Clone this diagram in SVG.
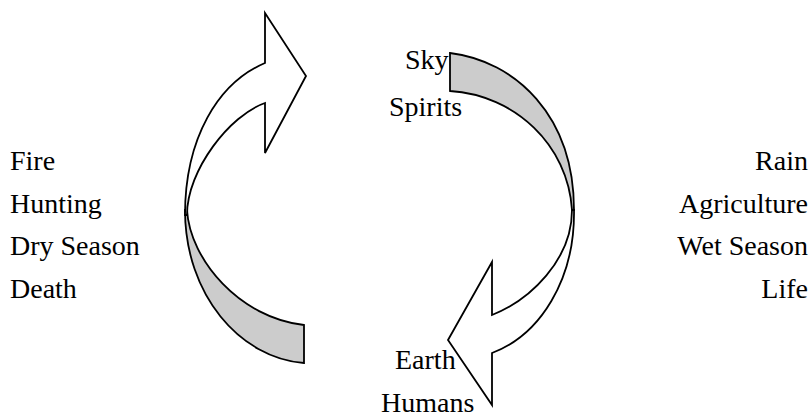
<svg xmlns="http://www.w3.org/2000/svg" width="811" height="417" viewBox="0 0 811 417">
<style>
.t{font-family:"Liberation Serif","Times New Roman",serif;font-size:28px;fill:#000}
.w{fill:#fff;stroke:#000;stroke-width:1.8;stroke-linejoin:miter}
.g{fill:#cccccc;stroke:#000;stroke-width:1.8;stroke-linejoin:miter}
</style>
<rect width="811" height="417" fill="#fff"/>
<g id="connectors">
<g id="arrow-left">
<path class="g" d="M185,210 C185,295 240,358 304,363 L304,325 C240,318 190,260 187,210 Z"/>
<path class="w" d="M185,215 C185,138 218,83 265,63 L265,13 L306,76 L265,153 L265,103 C230,115 187,170 187,215 Z"/>
</g>
<g id="arrow-right">
<path class="g" d="M450,53 C515,61 574,115 574,210 L572,210 C568,145 515,95 450,91 Z"/>
<path class="w" d="M572,210 C572,260 530,300 492,315 L492,262 L448,340 L492,405 L492,353 C540,335 575,280 574,210 Z"/>
</g>
</g>
<g id="left-labels">
<text class="t" x="10" y="170">Fire</text>
<text class="t" x="10" y="213">Hunting</text>
<text class="t" x="10" y="255">Dry Season</text>
<text class="t" x="10" y="298">Death</text>
</g>
<g id="right-labels">
<text class="t" x="808" y="170" text-anchor="end">Rain</text>
<text class="t" x="808" y="213" text-anchor="end">Agriculture</text>
<text class="t" x="808" y="255" text-anchor="end">Wet Season</text>
<text class="t" x="808" y="298" text-anchor="end">Life</text>
</g>
<g id="top-label">
<text class="t" x="405" y="69">Sky</text>
<text class="t" x="389" y="116">Spirits</text>
</g>
<g id="bottom-label">
<text class="t" x="395" y="369">Earth</text>
<text class="t" x="381" y="412">Humans</text>
</g>
</svg>
